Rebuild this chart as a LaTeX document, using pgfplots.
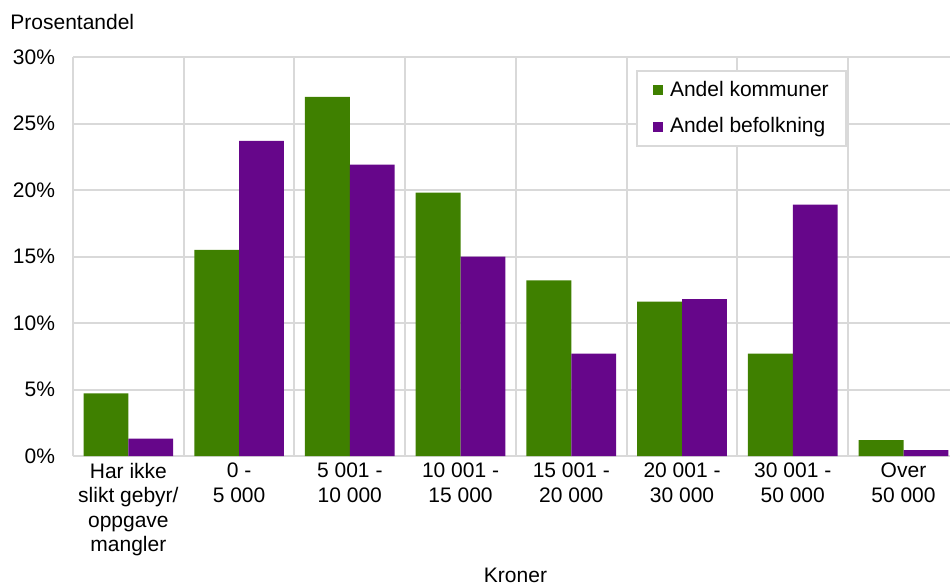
\documentclass[border=0pt]{standalone}
\usepackage{fontspec}
\setmainfont{Liberation Sans}
\usepackage{pgfplots}
\pgfplotsset{compat=1.18}
\definecolor{kgreen}{HTML}{3F8000}
\definecolor{kpurple}{HTML}{66068A}
\definecolor{gridgray}{HTML}{D9D9D9}
\begin{document}
\begin{tikzpicture}[font=\fontsize{10.5}{12.25}\selectfont]
\begin{axis}[
  at={(36.5pt,65pt)}, anchor=south west,
  scale only axis, width=438.5pt, height=199.5pt,
  clip=false,
  ybar=0pt, bar width=0.405,
  xmin=-0.5, xmax=7.42, ymin=0, ymax=30,
  xtick={0,...,7},
  xticklabels={{Har ikke\\slikt gebyr/\\oppgave\\mangler},{0 -\\5 000},{5 001 -\\10 000},{10 001 -\\15 000},{15 001 -\\20 000},{20 001 -\\30 000},{30 001 -\\50 000},{Over\\50 000}},
  xticklabel style={align=center, font=\fontsize{10.5}{12.25}\selectfont},
  minor xtick={-0.5,0.5,1.5,2.5,3.5,4.5,5.5,6.5},
  xminorgrids=true, ymajorgrids=true, xmajorgrids=false,
  grid style={gridgray, line width=1pt},
  minor grid style={gridgray, line width=1pt},
  ytick={0,5,10,15,20,25,30},
  yticklabels={0\%,5\%,10\%,15\%,20\%,25\%,30\%},
  yticklabel style={font=\fontsize{10.5}{12.25}\selectfont, xshift=-5.5pt},
  major tick length=0pt, minor tick length=0pt,
  axis x line*=bottom, axis y line*=left,
  axis line style={gridgray, line width=1pt, -},
  legend style={at={(0.642,0.967)}, anchor=north west, draw=gridgray, line width=1pt,
    font=\fontsize{10.5}{12.25}\selectfont, row sep=5pt, inner xsep=6.5pt, inner ysep=3pt},
  legend cell align=left,
  legend image code/.code={\path (0pt,0pt) (8pt,0pt);\fill[#1,draw=none] (1.5pt,-2.5pt) rectangle (6.5pt,2.5pt);},
]
\addplot[fill=kgreen, draw=none] coordinates {(0,4.7) (1,15.5) (2,27.0) (3,19.8) (4,13.2) (5,11.6) (6,7.7) (7,1.2)};
\addplot[fill=kpurple, draw=none] coordinates {(0,1.3) (1,23.7) (2,21.9) (3,15.0) (4,7.7) (5,11.8) (6,18.9) (7,0.45)};
\legend{Andel kommuner, Andel befolkning}
\node[anchor=base west, inner sep=0pt] at ([xshift=-31.5pt, yshift=14pt]axis description cs:0,1) {Prosentandel};
\node[anchor=base, inner sep=0pt] at ([xshift=2pt, yshift=-63.3pt]axis description cs:0.5,0) {Kroner};
\end{axis}
\pgfresetboundingbox
\path[use as bounding box] (0,0) rectangle (475pt,293pt);
\end{tikzpicture}
\end{document}
